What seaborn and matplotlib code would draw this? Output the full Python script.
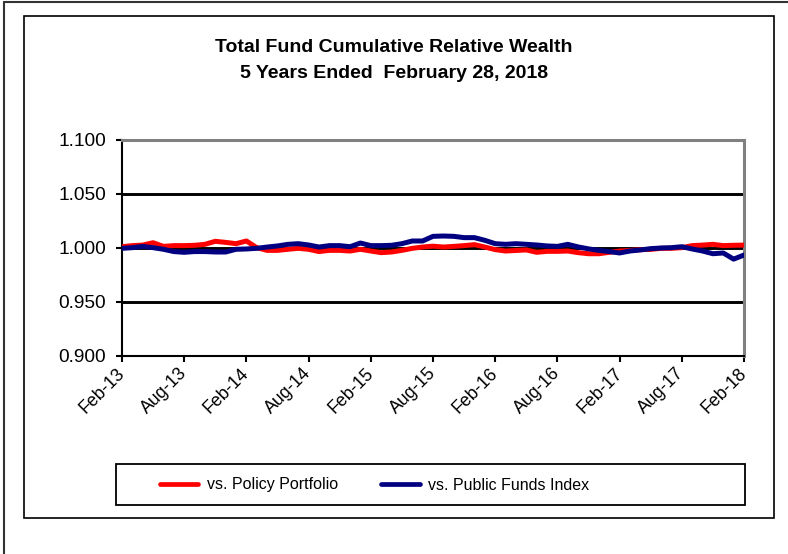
import matplotlib
matplotlib.use("Agg")
import matplotlib.pyplot as plt
from matplotlib.patches import Rectangle
from matplotlib.lines import Line2D
import numpy as np
import pandas as pd
import seaborn as sns

# Monthly cumulative relative wealth, Feb-2013 .. Feb-2018 (61 month-ends)
tick_labels = ["Feb-13", "Aug-13", "Feb-14", "Aug-14", "Feb-15", "Aug-15",
               "Feb-16", "Aug-16", "Feb-17", "Aug-17", "Feb-18"]

vs_policy = [
    1.0012, 1.0022, 1.0027, 1.0049, 1.0015, 1.0022, 1.0022, 1.0025, 1.0034, 1.0062,
    1.0052, 1.0040, 1.0065, 1.0003, 0.9978, 0.9978, 0.9988, 0.9997, 0.9988, 0.9967,
    0.9978, 0.9978, 0.9972, 0.9988, 0.9972, 0.9957, 0.9963, 0.9978, 0.9997, 1.0009,
    1.0017, 1.0009, 1.0015, 1.0022, 1.0031, 1.0009, 0.9985, 0.9972, 0.9977, 0.9982,
    0.9960, 0.9969, 0.9969, 0.9972, 0.9957, 0.9947, 0.9947, 0.9960, 0.9972, 0.9977,
    0.9985, 0.9987, 0.9997, 0.9997, 1.0003, 1.0022, 1.0027, 1.0034, 1.0022, 1.0025,
    1.0027,
]

vs_public = [
    0.9997, 1.0003, 1.0015, 1.0003, 0.9988, 0.9967, 0.9960, 0.9967, 0.9967, 0.9963,
    0.9963, 0.9988, 0.9991, 0.9997, 1.0009, 1.0019, 1.0034, 1.0040, 1.0028, 1.0009,
    1.0022, 1.0022, 1.0012, 1.0046, 1.0022, 1.0022, 1.0025, 1.0040, 1.0065, 1.0065,
    1.0108, 1.0111, 1.0108, 1.0096, 1.0096, 1.0071, 1.0040, 1.0034, 1.0040, 1.0034,
    1.0028, 1.0019, 1.0015, 1.0034, 1.0010, 0.9992, 0.9978, 0.9967, 0.9954, 0.9972,
    0.9982, 0.9994, 1.0000, 1.0003, 1.0012, 0.9991, 0.9972, 0.9947, 0.9954, 0.9897,
    0.9935,
]

series_names = ["vs. Policy Portfolio", "vs. Public Funds Index"]
series_colors = ["#FF0000", "#000080"]

df = pd.DataFrame({
    "month": np.arange(len(vs_policy)),
    series_names[0]: vs_policy,
    series_names[1]: vs_public,
})
long_df = df.melt(id_vars="month", var_name="series", value_name="wealth")

sns.set_theme(style="white")
plt.rcParams["font.family"] = ["Liberation Sans", "DejaVu Sans"]
plt.rcParams.update({"text.color": "black", "axes.labelcolor": "black",
                     "xtick.color": "black", "ytick.color": "black"})

W, H = 788, 554
fig = plt.figure(figsize=(W / 100, H / 100), dpi=100)
fig.patch.set_facecolor("white")


def fx(px):
    return px / W


def fy(py):
    return 1 - py / H


# plot area
ax = fig.add_axes([fx(122), fy(356), fx(744 - 122), (356 - 140) / H])
sns.lineplot(data=long_df, x="month", y="wealth", hue="series",
             hue_order=series_names, palette=series_colors,
             linewidth=3.6, ax=ax, legend=False, zorder=3)

ax.set_xlim(0, len(vs_policy) - 1)
ax.set_ylim(0.9, 1.1)
yticks = [0.90, 0.95, 1.00, 1.05, 1.10]
ax.set_yticks(yticks)
ax.set_yticklabels([f"{v:.3f}" for v in yticks])
ax.set_xticks(np.arange(0, len(vs_policy), 6))
ax.set_xticklabels(tick_labels, rotation=45, ha="right", va="center",
                   rotation_mode="anchor")
ax.set_xlabel("")
ax.set_ylabel("")

ax.yaxis.grid(True, color="black", linewidth=2.1, zorder=1)
ax.xaxis.grid(False)
ax.set_axisbelow(True)

for side in ("left", "bottom"):
    ax.spines[side].set_color("black")
    ax.spines[side].set_linewidth(1.5)
for side in ("top", "right"):
    ax.spines[side].set_color("#808080")
    ax.spines[side].set_linewidth(2.2)

ax.tick_params(axis="y", direction="out", length=4.5, width=1.5, color="black",
               labelsize=13.8, pad=7, left=True)
ax.tick_params(axis="x", direction="out", length=4.5, width=1.5, color="black",
               labelsize=12.8, pad=6, bottom=True)

# titles
fig.text(0.5, fy(48), "Total Fund Cumulative Relative Wealth", ha="center",
         va="center", fontsize=14, fontweight="bold")
fig.text(0.5, fy(73), "5 Years Ended  February 28, 2018", ha="center",
         va="center", fontsize=14, fontweight="bold")

# legend
handles = [Line2D([], [], color=c, linewidth=3.4, solid_capstyle="round")
           for c in series_colors]
fig.legend(handles, series_names, loc="center left",
           bbox_to_anchor=(fx(160), fy(485)), ncol=2, frameon=False,
           fontsize=11.5, handlelength=2.4, handletextpad=0.55,
           columnspacing=2.7, borderpad=0, borderaxespad=0)
fig.add_artist(Rectangle((fx(116), fy(505)), fx(745 - 116), (505 - 464) / H,
                         fill=False, edgecolor="black", linewidth=1.3,
                         transform=fig.transFigure))

# chart frame and outer page frame
fig.add_artist(Rectangle((fx(24), fy(518)), fx(774 - 24), (518 - 16) / H,
                         fill=False, edgecolor="black", linewidth=1.2,
                         transform=fig.transFigure))
fig.add_artist(Line2D([fx(4), fx(4)], [0, fy(2)], color="#333333",
                      linewidth=1.5, transform=fig.transFigure))
fig.add_artist(Line2D([fx(4), 1], [fy(2), fy(2)], color="#333333",
                      linewidth=1.5, transform=fig.transFigure))

fig.savefig("out.png", dpi=100)
